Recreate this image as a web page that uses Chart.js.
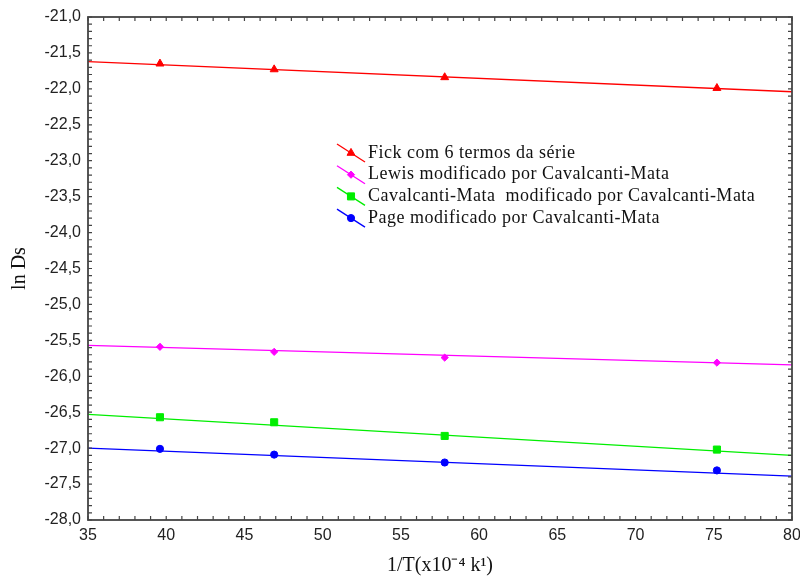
<!DOCTYPE html>
<html>
<head>
<meta charset="utf-8">
<script src="https://cdn.jsdelivr.net/npm/chart.js@4"></script>
<style>
  html, body { margin: 0; padding: 0; background: #fff; }
  #box { width: 800px; height: 581px; position: relative; }
</style>
</head>
<body>
<div id="box"><canvas id="myChart"></canvas></div>
<script>
// 1/T values where the points were measured
const xPoints = [39.6, 46.9, 57.8, 75.2]
const fick = [-21.65, -21.73, -21.84, -21.99]
const lewis = [-25.59, -25.66, -25.74, -25.81]
const cavalcanti = [-26.57, -26.64, -26.83, -27.02]
const page = [-27.01, -27.09, -27.20, -27.31]

// fitted lines, ends of the x range
const lineX = [35, 80]
const fickFit = [-21.62, -22.04]
const lewisFit = [-25.57, -25.84]
const cavalcantiFit = [-26.53, -27.10]
const pageFit = [-27.00, -27.39]

const names = [
    'Fick com 6 termos da série',
    'Lewis modificado por Cavalcanti-Mata',
    'Cavalcanti-Mata  modificado por Cavalcanti-Mata',
    'Page modificado por Cavalcanti-Mata'
]
const colors = ['#ff0000', '#ff00ff', '#00ee00', '#0000ff']
const styles = ['triangle', 'rectRot', 'rect', 'circle']
const radii = [4.6, 3.6, 5, 3.6]

const toXY = (xs, ys) => xs.map((x, i) => ({x: x, y: ys[i]}))
const pointSets = [fick, lewis, cavalcanti, page]
const fitSets = [fickFit, lewisFit, cavalcantiFit, pageFit]

let datasets = []
pointSets.forEach((ys, i) => {
    datasets.push({
        label: names[i],
        data: toXY(lineX, fitSets[i]),
        showLine: true,
        borderColor: colors[i],
        borderWidth: 1.3,
        pointRadius: 0
    })
    datasets.push({
        label: names[i] + ' pts',
        data: toXY(xPoints, ys),
        showLine: false,
        pointStyle: styles[i],
        pointRadius: radii[i],
        backgroundColor: colors[i],
        borderColor: colors[i],
        borderWidth: 1
    })
})

// box frame with inward ticks on all four sides
const frame = {
    id: 'frame',
    afterDraw(chart) {
        const {ctx, chartArea: a, scales} = chart
        ctx.save()
        ctx.strokeStyle = '#444'
        ctx.lineWidth = 1.8
        ctx.strokeRect(a.left, a.top, a.right - a.left, a.bottom - a.top)
        ctx.lineWidth = 1.2
        ctx.beginPath()
        for (let v = 35; v <= 80; v++) {
            const px = scales.x.getPixelForValue(v)
            ctx.moveTo(px, a.bottom); ctx.lineTo(px, a.bottom - 4)
            ctx.moveTo(px, a.top); ctx.lineTo(px, a.top + 4)
        }
        for (let k = 0; k <= 70; k++) {
            const py = scales.y.getPixelForValue(-28 + k / 10)
            ctx.moveTo(a.left, py); ctx.lineTo(a.left + 4, py)
            ctx.moveTo(a.right, py); ctx.lineTo(a.right - 4, py)
        }
        ctx.stroke()
        ctx.restore()
    }
}

// legend: a short slanted line with the marker on it
const slantLegend = {
    id: 'slantLegend',
    afterDraw(chart) {
        const ctx = chart.ctx
        ctx.save()
        ctx.font = '18px "Liberation Serif", "Times New Roman", serif'
        ctx.letterSpacing = '0.5px'
        ctx.textBaseline = 'middle'
        names.forEach((name, i) => {
            const y = 153 + i * 21.7
            ctx.strokeStyle = colors[i]
            ctx.fillStyle = colors[i]
            ctx.lineWidth = 1.3
            ctx.beginPath()
            ctx.moveTo(337, y - 9)
            ctx.lineTo(365, y + 9)
            ctx.stroke()
            ctx.lineWidth = 1
            Chart.helpers.drawPoint(ctx, {pointStyle: styles[i], radius: radii[i], borderWidth: 1, rotation: 0}, 351, y)
            ctx.fillStyle = '#111'
            ctx.fillText(name, 368, y)
        })
        ctx.restore()
    }
}

const ctx = document.getElementById('myChart').getContext('2d')
const myChart = new Chart(ctx, {
    type: 'scatter',
    data: { datasets: datasets },
    plugins: [frame, slantLegend],
    options: {
        responsive: true,
        maintainAspectRatio: false,
        animation: false,
        layout: { padding: { left: 0, top: 17, right: 0, bottom: 0 } },
        plugins: {
            legend: { display: false },
            tooltip: { enabled: false }
        },
        scales: {
            x: {
                type: 'linear',
                min: 35,
                max: 80,
                grid: { display: false, drawTicks: false },
                border: { display: false },
                ticks: {
                    stepSize: 5,
                    padding: 6,
                    color: '#222',
                    font: { family: '"Liberation Sans", Arial, sans-serif', size: 16 }
                },
                title: {
                    display: true,
                    text: '1/T(x10⁻⁴ k¹)',
                    color: '#111',
                    padding: { top: 0, bottom: 3 },
                    font: { family: '"Liberation Serif", "Times New Roman", serif', size: 20 }
                },
                afterFit(scale) {
                    scale.height = 61
                    scale.paddingRight = 8
                }
            },
            y: {
                type: 'linear',
                min: -28,
                max: -21,
                grid: { display: false, drawTicks: false },
                border: { display: false },
                ticks: {
                    stepSize: 0.5,
                    padding: 7,
                    color: '#222',
                    font: { family: '"Liberation Sans", Arial, sans-serif', size: 16 },
                    callback: v => v.toFixed(1).replace('.', ',')
                },
                title: {
                    display: true,
                    text: 'ln Ds',
                    color: '#111',
                    padding: { top: 8, bottom: 0 },
                    font: { family: '"Liberation Serif", "Times New Roman", serif', size: 20 }
                },
                afterFit(scale) { scale.width = 88 }
            }
        }
    }
})
</script>
</body>
</html>
